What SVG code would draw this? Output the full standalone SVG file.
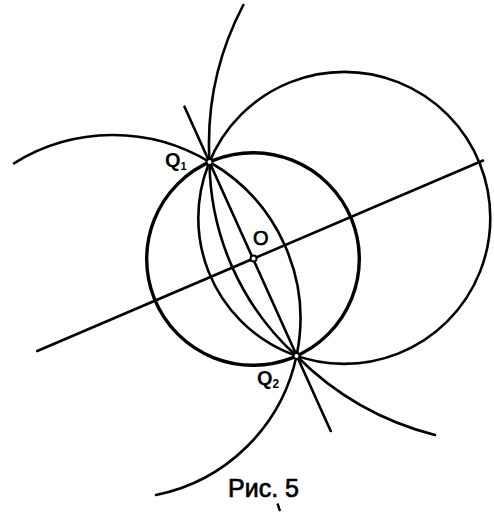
<svg xmlns="http://www.w3.org/2000/svg" width="494" height="515" viewBox="0 0 494 515">
<style>
.ln{fill:none;stroke:#000;stroke-width:2.6;stroke-linecap:round}
.thick{fill:none;stroke:#000;stroke-width:3.4}
.pt{fill:#fff;stroke:#000;stroke-width:2}
.lbl{font-family:"Liberation Sans",Arial,sans-serif;font-weight:bold;fill:#000}
.cap{font-family:"Liberation Sans",Arial,sans-serif;fill:#000;stroke:#000;stroke-width:0.7}
</style>
<rect width="494" height="515" fill="#fff"/>
<g id="connectors">
<circle class="thick" cx="253" cy="259" r="106.3"/>
<circle class="ln" cx="344.3" cy="217.9" r="146"/>
<line class="ln" x1="184.5" y1="106.7" x2="330.7" y2="431"/>
<line class="ln" x1="37.3" y1="351" x2="483" y2="160.5"/>
<path class="ln" d="M14,163.3 A187,187 0 0 1 209.5,162 A180.6,180.6 0 0 1 296.5,356 A180,180 0 0 1 156,495"/>
<path class="ln" d="M243.3,5 A300,300 0 0 0 209.5,162 A265,265 0 0 0 296.5,356 A300,300 0 0 0 435,435"/>
</g>
<g id="Q1"><circle class="pt" cx="209.5" cy="162" r="3"/><text class="lbl" x="165" y="167" font-size="20">Q<tspan font-size="11" dy="3">1</tspan></text></g>
<g id="Q2"><circle class="pt" cx="296.5" cy="356" r="3"/><text class="lbl" x="257" y="385" font-size="20">Q<tspan font-size="12" dy="3">2</tspan></text></g>
<g id="O"><circle class="pt" cx="253.5" cy="258.5" r="3"/><text class="cap" x="253" y="245" font-size="20">O</text></g>
<g id="caption"><text class="cap" x="228" y="497" font-size="25">Рис. 5</text><line x1="277.5" y1="503.5" x2="280" y2="511" stroke="#000" stroke-width="2.4"/></g>
</svg>
